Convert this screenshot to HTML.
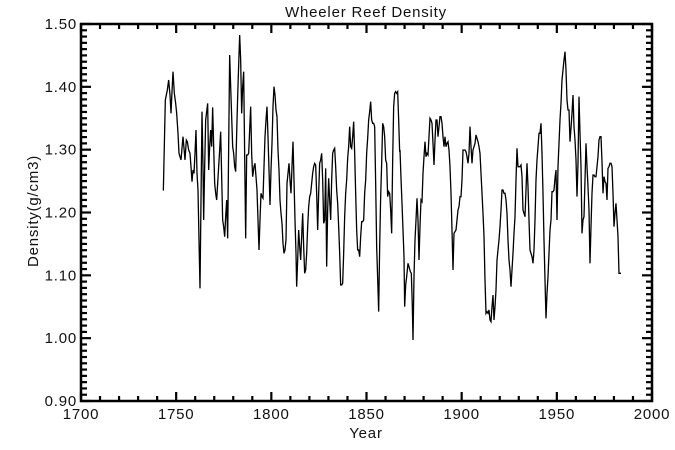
<!DOCTYPE html>
<html><head><style>
html,body{margin:0;padding:0;background:#fff;}
svg{display:block;font-family:"Liberation Sans",sans-serif;}
</style></head><body>
<svg width="675" height="450" viewBox="0 0 675 450">
<g id="ticks" stroke="#000" stroke-width="2.2"></g>
<rect x="81" y="24" width="571" height="377" fill="none" stroke="#000" stroke-width="2.5"/>
<g font-size="15" fill="#111" letter-spacing="0.8">
<text x="366" y="17" text-anchor="middle">Wheeler Reef Density</text>
<text x="366" y="438" text-anchor="middle">Year</text>
<text transform="translate(38,211) rotate(-90)" text-anchor="middle">Density(g/cm3)</text>
<g id="xl" text-anchor="middle"></g>
<g id="yl" text-anchor="end"></g>
</g>
<g fill="none" stroke="#000" stroke-width="1.3" stroke-linejoin="miter">
<polyline id="p1" transform="translate(160,20) scale(0.33333)" vector-effect="non-scaling-stroke" points="10,512 13,376 16,240 22,210 26,180 30,225 33,280 36,215 39,155 43,220 47,250 50,280 54,340 57,400 60,410 63,420 66,385 69,350 72,385 75,420 79,360 82,365 86,390 90,400 93,440 96,485 99,450 102,460 105,400 108,330 111,460 114,510 117,660 120,805 123,540 126,275 129,440 131,600 134,440 137,300 140,275 143,250 146,450 149,380 152,330 155,380 158,262 161,380 164,490 167,520 170,540 173,490 176,440 179,390 182,335 185,470 188,600 191,620 194,650 197,590 200,540 203,655 206,380 209,105 212,200 215,290 218,380 221,400 224,440 227,455 230,340 233,230 236,135 239,45 242,120 245,280 248,200 251,155 254,405 257,655 260,405 263,405 266,400 269,330 272,260 275,400 278,470 282,440 285,430 288,470 291,510 294,600 297,690 300,600 303,520 306,530 309,535 312,440 315,350 318,300 321,260 324,350 327,450 330,555 333,450 336,370 339,260 342,200 345,225 348,270 351,290 354,390 357,450 360,540 363,580 366,610 369,670 372,700 375,690 378,660 381,490 384,460 387,430 390,480 393,520 396,440 399,365 402,480 405,600 408,700 410,800 413,720 416,630 419,680 422,720 425,650 428,580 431,680 434,760 437,750 440,700 443,620 446,560 449,530 452,520 455,490 458,460 461,440 464,430 467,435 470,520 473,630 476,520 479,430 482,420 485,400 488,480 491,610 494,600 497,445 500,740 503,570 506,475 509,540 512,600 515,480 518,400 521,390 524,385 527,440 530,510 533,550 536,620 539,700 542,795 545,795 548,790 551,700 554,590 557,520 560,480 563,415 566,380 569,320 572,380 575,385 578,350 581,305 584,400 587,520 590,630 593,690 596,690 599,710 602,650 605,605 608,605 611,600 614,520 617,480 620,400 623,355 626,300 629,275 632,245 635,300 638,310 641,310 644,320 647,490 650,680 653,775 656,875 659,680 662,530 665,430 668,310 671,320 674,350 677,420 680,430 683,530 686,515 689,520 692,570 695,640 698,420 701,260 704,220 707,215 710,220 713,215 716,300 719,395 720,390"/>
<polyline id="p2" transform="translate(400,20) scale(0.33333)" vector-effect="non-scaling-stroke" points="0,390 3,475 6,550 9,630 12,710 14,860 17,795 20,770 24,730 27,740 31,755 34,760 37,860 39,960 42,770 45,660 48,600 51,535 54,600 57,720 60,620 63,540 66,545 69,460 72,410 75,365 78,410 81,400 84,405 87,350 90,295 93,300 96,310 99,370 102,435 105,360 108,300 111,300 114,350 117,320 120,290 123,290 126,310 129,350 132,380 135,350 138,380 141,370 144,365 147,390 150,440 153,520 156,630 159,750 162,640 165,635 168,630 171,600 174,570 177,560 180,530 183,530 186,480 189,390 192,390 195,390 198,395 201,410 204,430 207,400 210,320 213,380 216,430 219,390 222,380 225,370 228,345 231,355 234,365 237,380 240,400 243,460 246,520 249,580 252,650 255,780 258,880 261,875 264,880 267,870 270,900 273,905 276,860 279,825 282,900 285,860 288,810 291,720 294,690 297,660 300,620 303,570 306,510 309,510 312,520 315,520 318,540 321,580 324,660 327,720 330,750 333,800 336,750 339,700 342,640 345,590 348,480 351,385 354,440 357,440 360,440 363,435 366,470 369,570 372,580 375,590 378,510 381,430 384,500 387,600 390,690 393,700 396,710 399,730 402,690 405,600 408,480 411,420 414,380 417,340 420,340 423,310 426,400 429,520 432,660 435,780 438,895 441,820 444,770 447,700 450,630 453,600 456,515 459,515 462,510 465,475 468,450 471,600 474,440 477,370 480,300 483,250 486,180 489,150 492,120 495,95 498,150 501,240 504,270 507,270 510,365 513,325 516,280 519,225 522,320 525,360 528,420 531,530 534,430 537,230 540,340 543,440 546,640 549,600 552,590 555,480 558,370 561,440 564,500 567,570 570,730 573,620 576,520 579,465 582,465 585,470 588,470 591,440 594,410 597,360 600,350 603,350 606,425 609,520 612,470 615,485 618,490 621,540 624,445 627,440 630,430 633,430 636,440 639,520 642,620 645,580 648,550 651,600 654,650 657,760 660,760 663,760"/>
</g>
<script>
(function(){
var ns="http://www.w3.org/2000/svg",t=document.getElementById("ticks"),xl=document.getElementById("xl"),yl=document.getElementById("yl");
function ln(a,b,c,d){var l=document.createElementNS(ns,"line");l.setAttribute("x1",a);l.setAttribute("y1",b);l.setAttribute("x2",c);l.setAttribute("y2",d);t.appendChild(l);}
function tx(g,x,y,s){var e=document.createElementNS(ns,"text");e.setAttribute("x",x);e.setAttribute("y",y);e.textContent=s;g.appendChild(e);}
var L=81,R=652,T=24,B=401;
for(var yr=1700;yr<=2000;yr+=10){var x=L+(yr-1700)*(R-L)/300;var maj=yr%50==0;var len=maj?9:5;ln(x,B,x,B-len);ln(x,T,x,T+len);if(maj)tx(xl,x,419,String(yr));}
for(var i=0;i<=60;i++){var y=B-i*(B-T)/60;var maj=i%10==0;var len=maj?10:6;ln(L,y,L+len,y);ln(R,y,R-len,y);if(maj)tx(yl,77,y+5,(0.9+i/100).toFixed(2));}
})();
</script>
</svg>
</body></html>
